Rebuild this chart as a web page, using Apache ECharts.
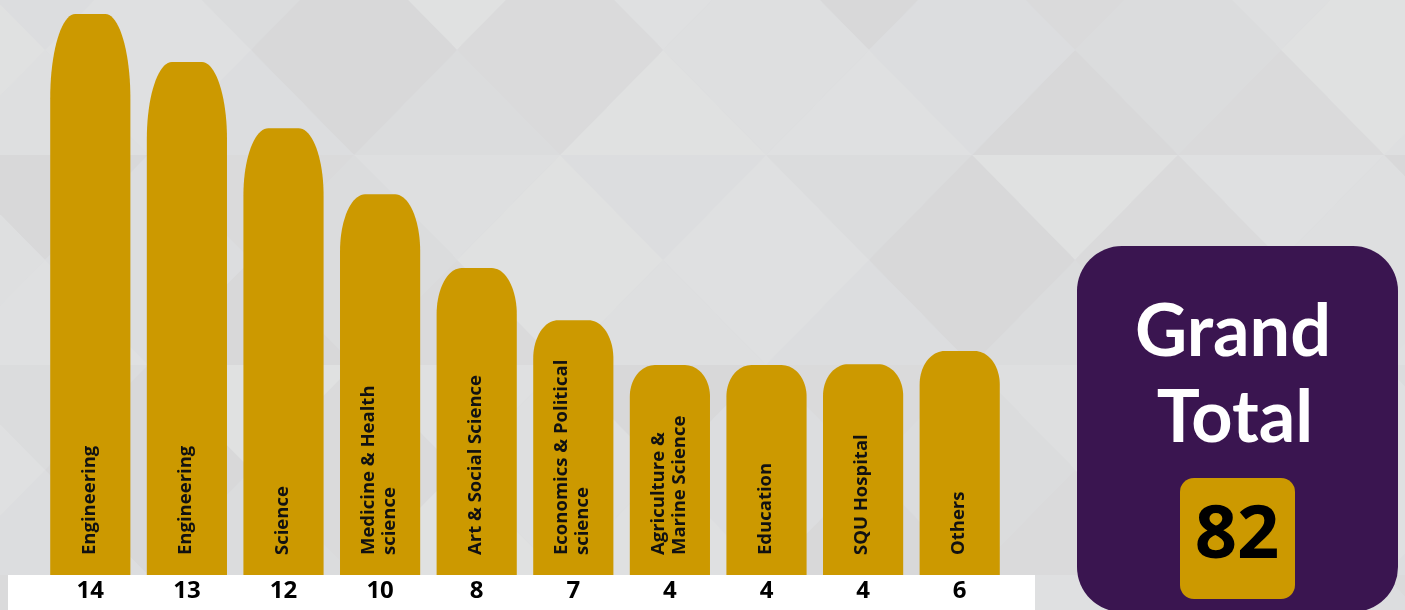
<!DOCTYPE html>
<html>
<head>
<meta charset="utf-8">
<script src="https://cdn.jsdelivr.net/npm/echarts@6/dist/echarts.min.js"></script>
<style>
html, body { margin: 0; padding: 0; background: #dcdddf; }
#chart { width: 1405px; height: 610px; }
</style>
</head>
<body>
<div id="chart"></div>
<script>
var categories = [
  "Engineering",
  "Engineering",
  "Science",
  "Medicine & Health\nscience",
  "Art & Social Science",
  "Economics & Political\nscience",
  "Agriculture &\nMarine Science",
  "Education",
  "SQU Hospital",
  "Others"
];
var counts = [14, 13, 12, 10, 8, 7, 4, 4, 4, 6];
// bar heights as drawn in the picture (not proportional to the counts)
var barHeights = [14, 12.8, 11.15, 9.5, 7.66, 6.36, 5.24, 5.24, 5.26, 5.59];
var totalTitle = ["Grand", "Total"];

var gold = "#cc9900";
var purple = "#3a1550";

var grandTotal = counts.reduce(function (s, v) { return s + v; }, 0);

// subtle triangle pattern behind the chart
var shades = ["#dcdddf", "#dadadb", "#dfe0e1", "#dbdcdd", "#dedfe0", "#d8d8d9", "#e0e1e1"];
var bg = [];
var cw = 206, ch = 210, ox = -58, oy = -55;
for (var r = 0; r < 4; r++) {
  for (var c = 0; c < 8; c++) {
    var x0 = ox + c * cw, y0 = oy + r * ch, mx = x0 + cw / 2, my = y0 + ch / 2;
    var tris = [
      [[x0, y0], [x0 + cw, y0], [mx, my]],
      [[x0 + cw, y0], [x0 + cw, y0 + ch], [mx, my]],
      [[x0, y0 + ch], [x0 + cw, y0 + ch], [mx, my]],
      [[x0, y0], [x0, y0 + ch], [mx, my]]
    ];
    for (var k = 0; k < 4; k++) {
      bg.push({
        type: "polygon",
        z: -20,
        silent: true,
        shape: { points: tris[k] },
        style: { fill: shades[(r * 5 + c * 3 + k * 2) % shades.length], stroke: null }
      });
    }
  }
}

function renderBar(params, api) {
  var idx = params.dataIndex;
  var base = api.coord([idx, 0]);
  var top = api.coord([idx, api.value(1)]);
  var w = api.size([1, 0])[0] * 0.83;
  var x0 = base[0] - w / 2, x1 = base[0] + w / 2;
  var h = base[1] - top[1];
  var rx = 25, ry = h * 0.15;
  var pts = [[x0, base[1]], [x0, top[1] + ry]];
  var n = 20;
  for (var i = 1; i <= n; i++) {
    var a = Math.PI - i * (Math.PI / 2) / n;
    pts.push([x0 + rx + rx * Math.cos(a), top[1] + ry - ry * Math.sin(a)]);
  }
  for (var j = 0; j <= n; j++) {
    var b = Math.PI / 2 - j * (Math.PI / 2) / n;
    pts.push([x1 - rx + rx * Math.cos(b), top[1] + ry - ry * Math.sin(b)]);
  }
  pts.push([x1, base[1]]);
  return {
    type: "group",
    children: [
      { type: "polygon", shape: { points: pts }, style: { fill: gold } },
      {
        type: "text",
        x: base[0] - 1,
        y: base[1] - 20,
        rotation: Math.PI / 2,
        style: {
          text: categories[idx],
          align: "left",
          verticalAlign: "middle",
          fontFamily: "Open Sans",
          fontWeight: "bold",
          fontSize: 18.5,
          lineHeight: 21,
          fill: "#111"
        }
      }
    ]
  };
}

var chart = echarts.init(document.getElementById("chart"));
var option = {
  backgroundColor: "#dcdddf",
  animation: false,
  grid: { left: 42, width: 966, top: 0, bottom: 35 },
  xAxis: {
    type: "category",
    data: categories,
    axisLine: { show: false },
    axisTick: { show: false },
    axisLabel: {
      margin: 4,
      fontFamily: "Open Sans",
      fontWeight: "bold",
      fontSize: 24,
      color: "#000",
      formatter: function (v, i) { return counts[i]; }
    }
  },
  yAxis: { type: "value", min: 0, max: 14.35, show: false },
  graphic: bg.concat([
    { type: "rect", z: -5, silent: true, shape: { x: 8, y: 575, width: 1027, height: 40 }, style: { fill: "#ffffff" } },
    { type: "rect", z: 5, shape: { x: 1077, y: 246, width: 321, height: 366, r: 45 }, style: { fill: purple } },
    { type: "text", z: 6, x: 1233, y: 333, style: { text: totalTitle[0], align: "center", verticalAlign: "middle", fontFamily: "Lato", fontWeight: "bold", fontSize: 72, fill: "#fff" } },
    { type: "text", z: 6, x: 1235, y: 419, style: { text: totalTitle[1], align: "center", verticalAlign: "middle", fontFamily: "Lato", fontWeight: "bold", fontSize: 72, fill: "#fff" } },
    { type: "rect", z: 6, shape: { x: 1180, y: 478, width: 115, height: 121, r: 14 }, style: { fill: gold } },
    { type: "text", z: 7, x: 1237, y: 537, style: { text: String(grandTotal), align: "center", verticalAlign: "middle", fontFamily: "Open Sans", fontWeight: "bold", fontSize: 74, fill: "#000" } }
  ]),
  series: [{
    type: "custom",
    renderItem: renderBar,
    encode: { x: 0, y: 1 },
    data: barHeights.map(function (h, i) { return [i, h]; })
  }]
};
chart.setOption(option);
</script>
</body>
</html>
